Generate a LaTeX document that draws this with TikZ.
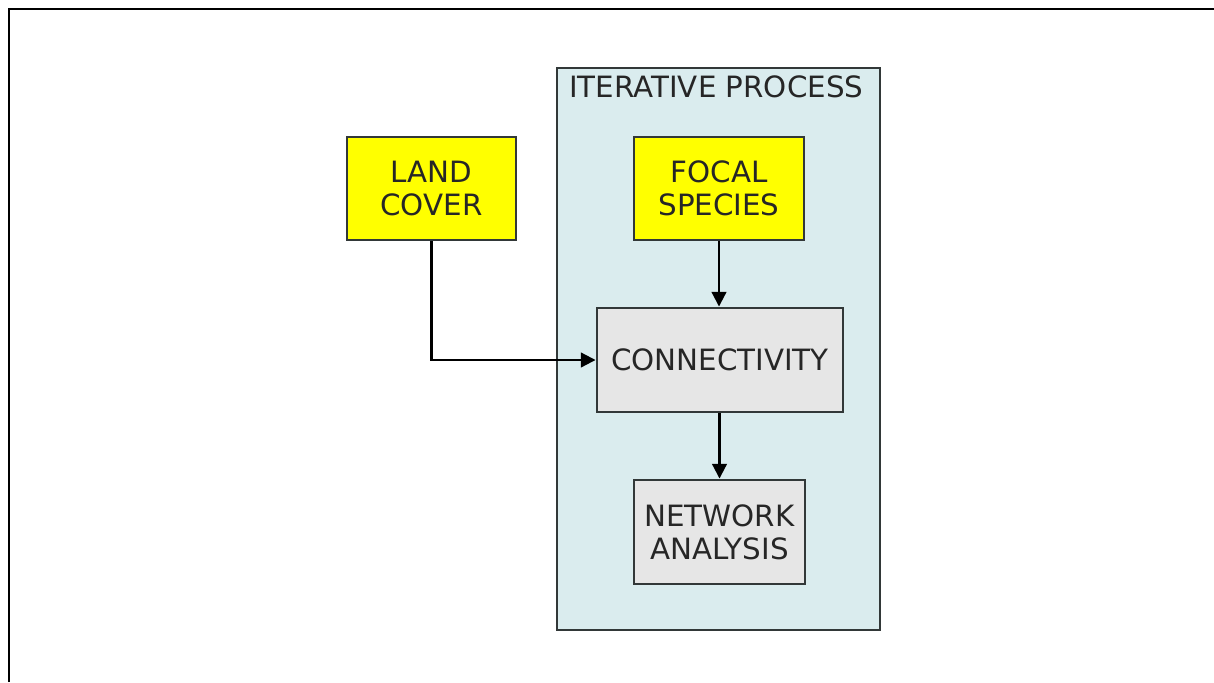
\documentclass[tikz,border=0pt]{standalone}
\usepackage{fontspec}
\setmainfont{DejaVu Sans}
\usetikzlibrary{arrows.meta}
\definecolor{boxyellow}{RGB}{255,255,0}
\definecolor{boxgray}{RGB}{230,230,230}
\definecolor{procfill}{RGB}{218,236,238}
\definecolor{edgegray}{RGB}{50,56,56}
\tikzset{
  lbl/.style={font=\fontsize{22}{25}\selectfont, text=black!85, align=center, inner sep=0pt},
  inbox/.style={lbl, draw=edgegray, line width=2.2pt, fill=boxyellow},
  stepbox/.style={lbl, draw=edgegray, line width=2.2pt, fill=boxgray},
  flow/.style={draw=black, line width=1.6pt, -{Triangle[length=11pt,width=11pt]}},
}
\begin{document}
\begin{tikzpicture}[x=0.75pt,y=-0.75pt]
  \useasboundingbox (0,0) rectangle (1214,682);
  % page frame (top and left edges)
  \draw[line width=1.6pt, black] (9,682) -- (9,9) -- (1214,9);
  % iterative process container
  \node[draw=edgegray, line width=2.2pt, fill=procfill, minimum width=323*0.75pt,
        minimum height=562*0.75pt, inner sep=0pt] (proc) at (718.5,349) {};
  \node[lbl, anchor=base west] (proctitle) at (569,97) {ITERATIVE PROCESS};
  % boxes
  \node[inbox, minimum width=169*0.75pt, minimum height=103*0.75pt] (land) at (431.5,188.5) {LAND\\COVER};
  \node[inbox, minimum width=170*0.75pt, minimum height=103*0.75pt] (focal) at (719,188.5) {FOCAL\\SPECIES};
  \node[stepbox, minimum width=246*0.75pt, minimum height=104*0.75pt] (conn) at (720,360) {CONNECTIVITY};
  \node[stepbox, minimum width=171*0.75pt, minimum height=104*0.75pt] (net) at (719.5,532) {NETWORK\\ANALYSIS};
  % connectors
  \draw[flow] (focal.south) -- (focal.south |- conn.north);
  \draw[flow] (conn.south -| net.north) -- (net.north);
  \draw[flow] (land.south) |- (conn.west);
\end{tikzpicture}
\end{document}
